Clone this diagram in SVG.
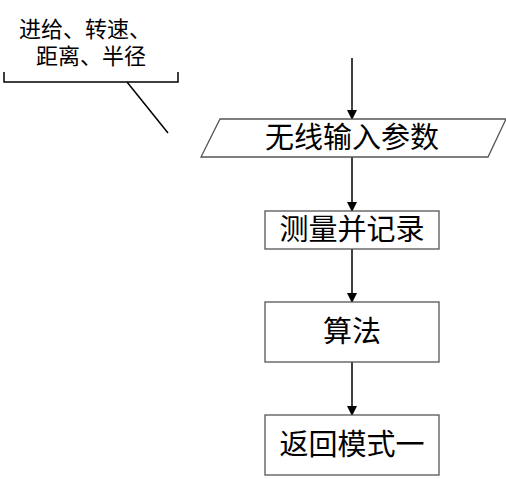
<svg xmlns="http://www.w3.org/2000/svg" width="506" height="479" viewBox="0 0 506 479">
<defs>
<marker id="ah" markerWidth="10" markerHeight="10" refX="9" refY="5" orient="auto" markerUnits="userSpaceOnUse" viewBox="0 0 10 10">
<path d="M0,0 L10,5 L0,10 z" fill="#000"/>
</marker>
<style>
.box{fill:#fff;stroke:#555;stroke-width:1.3}
.t{font-family:"Liberation Sans","Noto Sans CJK SC",sans-serif;font-size:29px;fill:#000;text-anchor:middle}
.s{font-family:"Liberation Sans","Noto Sans CJK SC",sans-serif;font-size:22px;fill:#000;text-anchor:middle}
.c{stroke:#000;stroke-width:1.5;fill:none}
</style>
</defs>
<rect width="506" height="479" fill="#fff"/>
<g id="connectors">
<line class="c" x1="352" y1="58" x2="352" y2="119" marker-end="url(#ah)"/>
<line class="c" x1="352" y1="157" x2="352" y2="211" marker-end="url(#ah)"/>
<line class="c" x1="352" y1="249" x2="352" y2="302" marker-end="url(#ah)"/>
<line class="c" x1="352" y1="362" x2="352" y2="415" marker-end="url(#ah)"/>
</g>
<g id="annotation">
<text class="s" x="85" y="37">进给、转速、</text>
<text class="s" x="91" y="64">距离、半径</text>
<path class="c" d="M4,72 V82 H178 V72" stroke="#333"/>
<line class="c" x1="127" y1="82" x2="168" y2="133" stroke="#333"/>
</g>
<g id="input">
<polygon class="box" points="220,119 506,119 488,157 201,157"/>
<text class="t" x="352" y="148">无线输入参数</text>
</g>
<g id="measure">
<rect class="box" x="265" y="211" width="174" height="38"/>
<text class="t" x="352" y="240">测量并记录</text>
</g>
<g id="algo">
<rect class="box" x="265" y="302" width="174" height="60"/>
<text class="t" x="352" y="342">算法</text>
</g>
<g id="mode1">
<rect class="box" x="265" y="415" width="174" height="60"/>
<text class="t" x="352" y="455">返回模式一</text>
</g>
</svg>
